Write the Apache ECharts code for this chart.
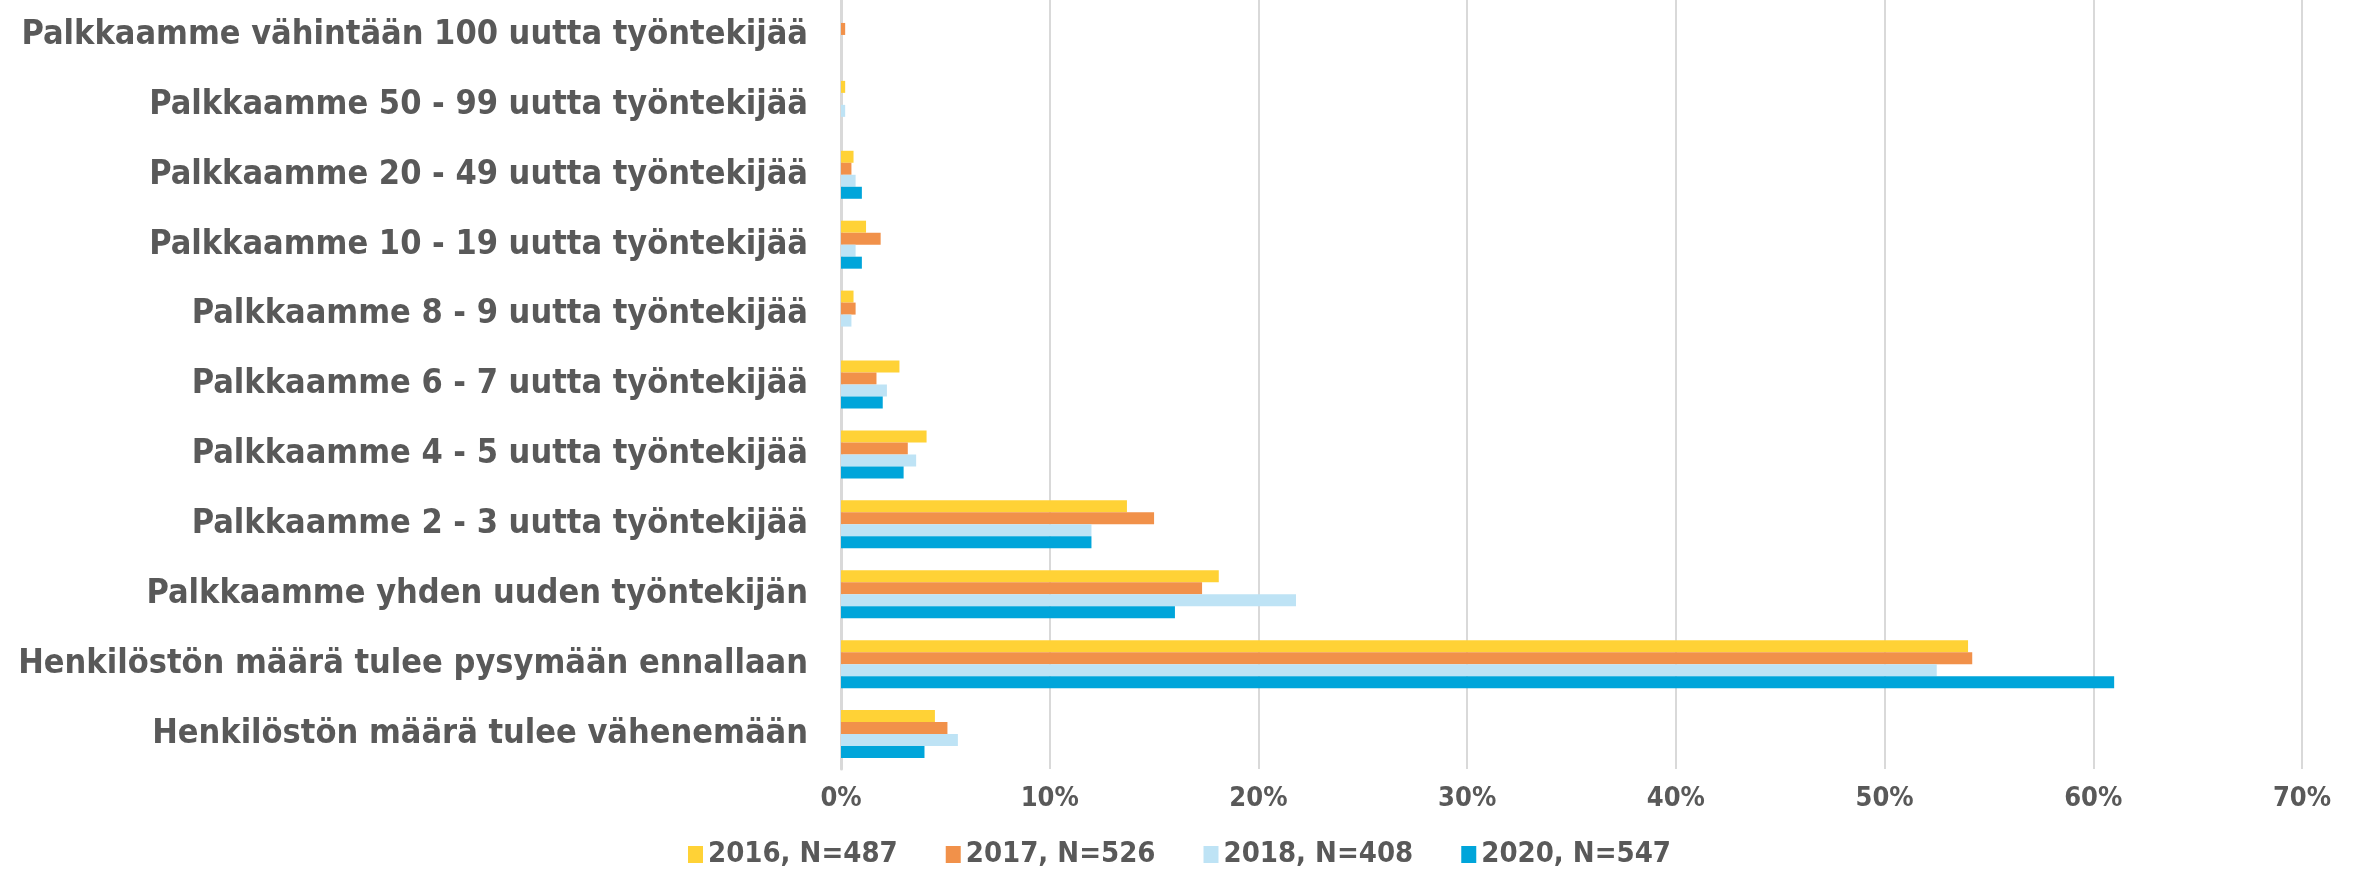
<!DOCTYPE html>
<html>
<head>
<meta charset="utf-8">
<script src="https://cdn.jsdelivr.net/npm/echarts@6/dist/echarts.min.js"></script>
<style>
  html, body { margin: 0; padding: 0; background: #fff; }
  #chart { width: 2359px; height: 880px; }
</style>
</head>
<body>
<div id="chart"></div>
<script>
// categories, top to bottom
const categories = [
  'Palkkaamme vähintään 100 uutta työntekijää',
  'Palkkaamme 50 - 99 uutta työntekijää',
  'Palkkaamme 20 - 49 uutta työntekijää',
  'Palkkaamme 10 - 19 uutta työntekijää',
  'Palkkaamme 8 - 9 uutta työntekijää',
  'Palkkaamme 6 - 7 uutta työntekijää',
  'Palkkaamme 4 - 5 uutta työntekijää',
  'Palkkaamme 2 - 3 uutta työntekijää',
  'Palkkaamme yhden uuden työntekijän',
  'Henkilöstön määrä tulee pysymään ennallaan',
  'Henkilöstön määrä tulee vähenemään'
]

const values2016 = [0, 0.2, 0.6, 1.2, 0.6, 2.8, 4.1, 13.7, 18.1, 54.0, 4.5]
const values2017 = [0.2, 0, 0.5, 1.9, 0.7, 1.7, 3.2, 15.0, 17.3, 54.2, 5.1]
const values2018 = [0, 0.2, 0.7, 0.7, 0.5, 2.2, 3.6, 12.0, 21.8, 52.5, 5.6]
const values2020 = [0, 0, 1.0, 1.0, 0, 2.0, 3.0, 12.0, 16.0, 61.0, 4.0]

const seriesNames = ['2016, N=487', '2017, N=526', '2018, N=408', '2020, N=547']
const seriesColors = ['#FFD236', '#F1914A', '#BEE3F5', '#00A5DA']

const chart = echarts.init(document.getElementById('chart'))

const textColor = '#595959'
const fontFamily = '"DejaVu Sans Condensed", "DejaVu Sans", sans-serif'

const series = [values2016, values2017, values2018, values2020].map((vals, i) => ({
  name: seriesNames[i],
  type: 'bar',
  data: vals,
  barWidth: 12,
  barGap: '0%',
  itemStyle: { color: seriesColors[i] },
}))

chart.setOption({
  backgroundColor: '#fff',
  animation: false,
  textStyle: { fontFamily },
  grid: {
    left: 841,
    right: 57,
    top: -7,
    bottom: 111,
  },
  legend: {
    bottom: 6,
    left: 'center',
    itemWidth: 15,
    itemHeight: 17,
    itemGap: 48,
    icon: 'rect',
    textStyle: {
      color: textColor,
      fontSize: 29,
      fontWeight: 'bold',
      fontFamily,
    },
    data: seriesNames,
  },
  xAxis: {
    type: 'value',
    min: 0,
    max: 70,
    interval: 10,
    axisLine: { show: false },
    axisTick: { show: false },
    splitLine: { lineStyle: { color: '#D9D9D9', width: 2 } },
    axisLabel: {
      color: textColor,
      fontSize: 27,
      fontWeight: 'bold',
      fontFamily,
      margin: 16,
      formatter: (v) => v + '%',
    },
  },
  yAxis: {
    type: 'category',
    data: categories,
    inverse: true,
    axisLine: { show: true, lineStyle: { color: '#D9D9D9', width: 3 } },
    axisTick: { show: false },
    axisLabel: {
      color: textColor,
      fontSize: 34,
      fontWeight: 'bold',
      fontFamily,
      margin: 33,
    },
  },
  series,
})
</script>
</body>
</html>
